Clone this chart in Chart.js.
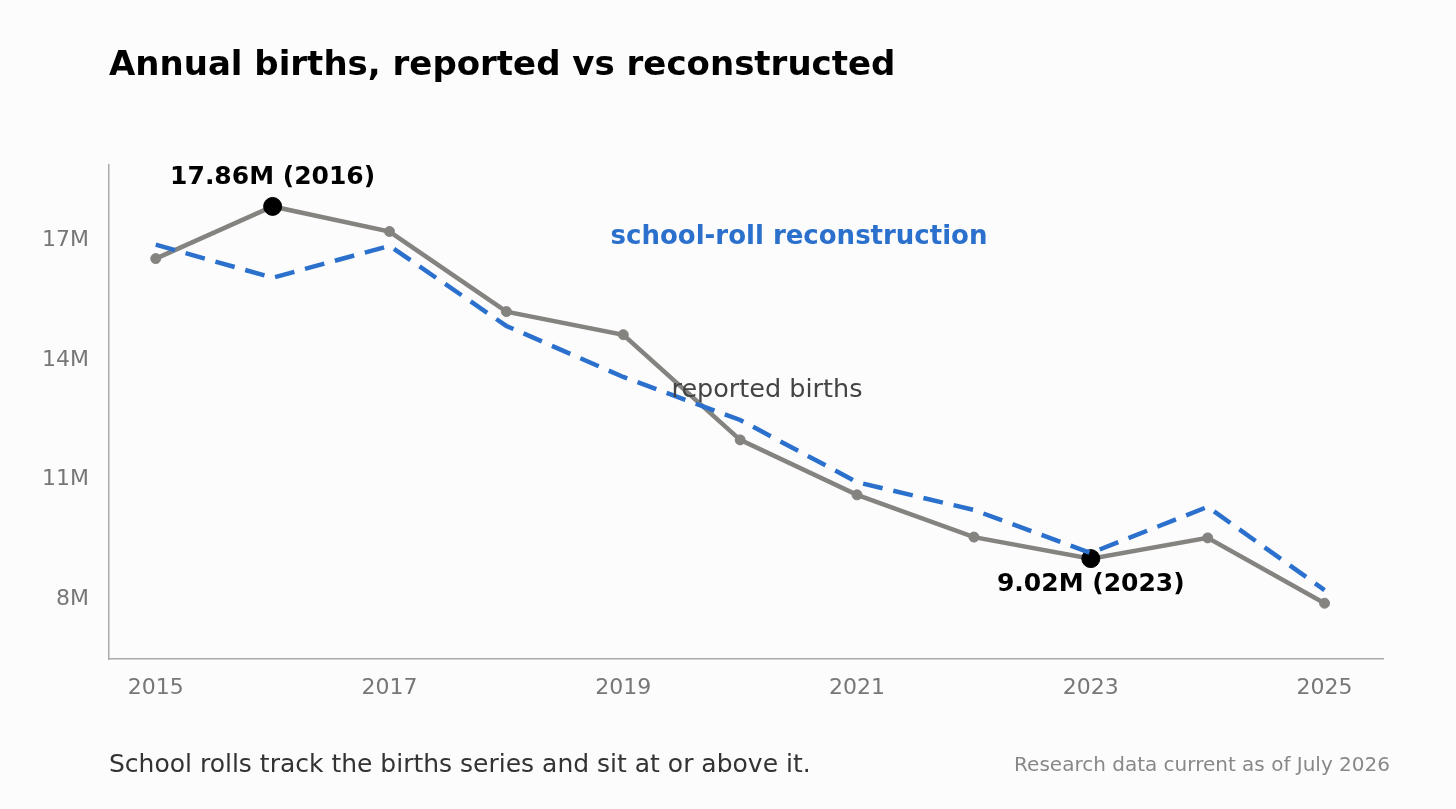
<!DOCTYPE html>
<html><head><meta charset="utf-8">
<script src="https://cdn.jsdelivr.net/npm/chart.js@4"></script>
<style>html,body{margin:0;padding:0;background:#fcfcfc;}#wrap{width:1456px;height:809px;}</style>
</head><body><div id="wrap"><canvas id="c"></canvas></div>
<script>
const years=[2015,2016,2017,2018,2019,2020,2021,2022,2023,2024,2025];
const reported=[16.55,17.86,17.23,15.22,14.64,12.0,10.62,9.56,9.02,9.54,7.90];
const reconstruction=[16.9,16.07,16.87,14.86,13.58,12.5,10.94,10.24,9.16,10.32,8.23];
const yTicks=[8,11,14,17];
const xTicks=[2015,2017,2019,2021,2023,2025];
const highlightYears=[2016,2023];
const F='"DejaVu Sans", sans-serif';
const overlay={id:'overlay',afterDraw(ch){const c=ch.ctx;const x=ch.scales.x,y=ch.scales.y;c.save();
c.fillStyle='#000';c.font='bold 34px '+F;c.textAlign='left';c.textBaseline='middle';c.fillText('Annual births, reported vs reconstructed',109,66);
c.font='bold 25px '+F;c.textAlign='center';
highlightYears.forEach((yr,k)=>{const i=years.indexOf(yr);const v=reported[i];const lab=v.toFixed(2)+'M ('+yr+')';c.fillStyle='#000';
if(k===0)c.fillText(lab,x.getPixelForValue(yr),177);else c.fillText(lab,x.getPixelForValue(yr),584);});
c.fillStyle='#2a70cc';c.font='bold 26px '+F;c.fillText('school-roll reconstruction',799,237);
c.fillStyle='#444';c.font='25.5px '+F;c.fillText('reported births',767,390);
c.textAlign='left';c.fillStyle='#333';c.font='25px '+F;c.fillText('School rolls track the births series and sit at or above it.',109,765);
c.textAlign='right';c.fillStyle='#888';c.font='20px '+F;c.fillText('Research data current as of July 2026',1390,766);
c.restore();}};
new Chart(document.getElementById('c'),{type:'line',
data:{datasets:[
{data:years.map((yr,i)=>({x:yr,y:reconstruction[i]})),borderColor:'#2a70cc',borderWidth:4.5,borderDash:[20,11],pointRadius:0,fill:false,tension:0},
{data:years.map((yr,i)=>({x:yr,y:reported[i]})),borderColor:'#858380',borderWidth:4.5,backgroundColor:'#858380',
 pointRadius:years.map(yr=>highlightYears.includes(yr)?9:5),
 pointBackgroundColor:years.map(yr=>highlightYears.includes(yr)?'#000':'#858380'),
 pointBorderColor:years.map(yr=>highlightYears.includes(yr)?'#000':'#858380'),pointBorderWidth:1,fill:false,tension:0}
]},
options:{responsive:true,maintainAspectRatio:false,animation:false,devicePixelRatio:1,
layout:{padding:{top:165,right:73,left:0,bottom:0}},
plugins:{legend:{display:false},tooltip:{enabled:false}},
scales:{
x:{type:'linear',min:2014.6,max:2025.5,grid:{display:false},border:{color:'#aaa',width:1.5},
 afterBuildTicks(s){s.ticks=xTicks.map(v=>({value:v}));},afterFit(s){s.height=150;},
 ticks:{color:'#777',font:{size:22,family:F},padding:8,callback:v=>String(v)}},
y:{min:6.5,max:18.9,grid:{display:false},border:{color:'#aaa',width:1.5},
 afterBuildTicks(s){s.ticks=yTicks.map(v=>({value:v}));},afterFit(s){s.width=109;},
 ticks:{color:'#777',font:{size:22,family:F},padding:12,callback:v=>v+'M'}}
}},plugins:[overlay]});
</script></body></html>
